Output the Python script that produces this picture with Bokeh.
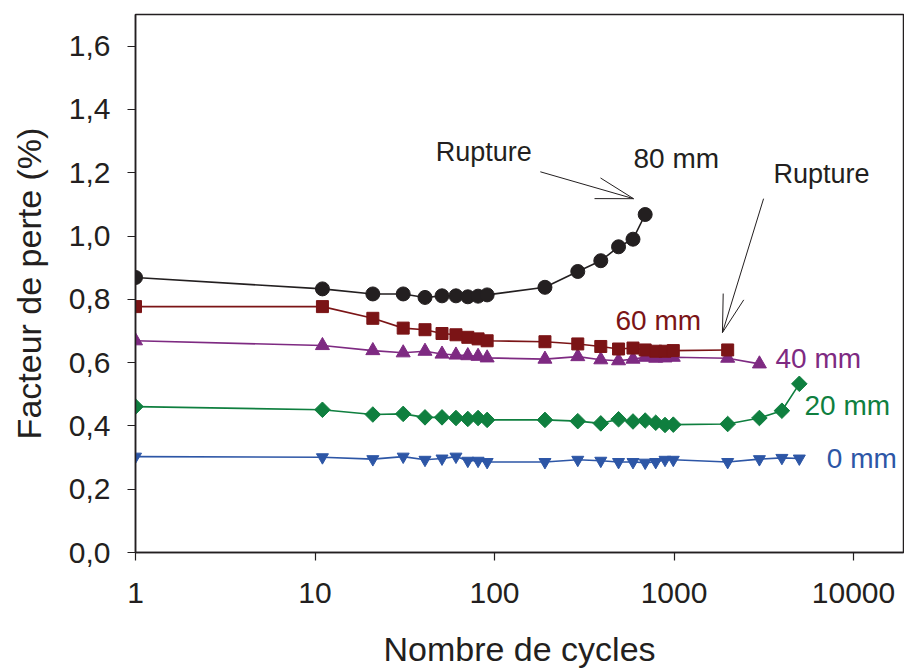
import math
from bokeh.plotting import figure
from bokeh.models import FixedTicker, Label
from bokeh.embed import file_html
from bokeh.resources import INLINE

# ---- data ----
cycles = [1, 11, 21, 31, 41, 51, 61, 71, 81, 91, 191, 291, 391, 491, 591, 691,
          791, 891, 991, 1991, 2991, 3991, 4991]
mm80 = [0.869, 0.833, 0.817, 0.817, 0.806, 0.811, 0.811, 0.808, 0.810, 0.814,
        0.838, 0.888, 0.922, 0.966, 0.990, 1.068]
mm60 = [0.777, 0.777, 0.740, 0.709, 0.704, 0.692, 0.688, 0.680, 0.675, 0.669,
        0.666, 0.659, 0.651, 0.643, 0.646, 0.640, 0.636, 0.636, 0.638, 0.640]
mm40 = [0.669, 0.654, 0.638, 0.631, 0.636, 0.627, 0.624, 0.622, 0.620, 0.615,
        0.611, 0.619, 0.609, 0.606, 0.611, 0.617, 0.614, 0.615, 0.617, 0.614, 0.596]
mm20 = [0.461, 0.451, 0.436, 0.438, 0.427, 0.427, 0.425, 0.422, 0.425, 0.419,
        0.419, 0.415, 0.408, 0.421, 0.414, 0.417, 0.410, 0.403, 0.404, 0.406,
        0.425, 0.448, 0.533]
mm0 = [0.303, 0.301, 0.295, 0.303, 0.293, 0.297, 0.303, 0.290, 0.290, 0.286,
       0.286, 0.293, 0.290, 0.286, 0.286, 0.284, 0.286, 0.293, 0.293, 0.286,
       0.295, 0.299, 0.297]

x_ticks = [1, 10, 100, 1000, 10000]
x_tick_labels = ["1", "10", "100", "1000", "10000"]
y_ticks = [0.0, 0.2, 0.4, 0.6, 0.8, 1.0, 1.2, 1.4, 1.6]
y_tick_labels = ["0,0", "0,2", "0,4", "0,6", "0,8", "1,0", "1,2", "1,4", "1,6"]

series_labels = ["80 mm", "60 mm", "40 mm", "20 mm", "0 mm"]

# ---- layout ----
W, H = 904, 671
BL, BR, BT, BB = 135, 1, 14, 119
frame_w = W - BL - BR
frame_h = H - BT - BB
px_per_decade = 179.5
x_start = 1
x_end = 10 ** (frame_w / px_per_decade)
y_start, y_end = 0.0, 1.7

INK = "#231f20"
FONT = "Liberation Sans"

p = figure(width=W, height=H, x_axis_type="log",
           x_range=(x_start, x_end), y_range=(y_start, y_end),
           output_backend="svg", toolbar_location=None,
           min_border_left=BL, min_border_right=BR,
           min_border_top=BT, min_border_bottom=BB)
p.xgrid.visible = False
p.ygrid.visible = False
p.outline_line_color = INK
p.outline_line_width = 1.5
p.background_fill_color = "white"
p.border_fill_color = "white"

for ax in (p.xaxis[0], p.yaxis[0]):
    ax.axis_line_color = INK
    ax.axis_line_width = 1.5
    ax.major_tick_line_color = INK
    ax.major_tick_line_width = 1.2
    ax.major_tick_in = 0
    ax.major_tick_out = 8
    ax.minor_tick_line_color = None
    ax.major_label_text_font = FONT
    ax.major_label_text_font_size = "30px"
    ax.major_label_text_color = INK
    ax.axis_label_text_font = FONT
    ax.axis_label_text_font_size = "34px"
    ax.axis_label_text_font_style = "normal"
    ax.axis_label_text_color = INK

p.xaxis.ticker = FixedTicker(ticks=x_ticks)
p.xaxis.major_label_overrides = dict(zip(x_ticks, x_tick_labels))
p.yaxis.ticker = FixedTicker(ticks=y_ticks)
p.yaxis.major_label_overrides = dict(zip(y_ticks, y_tick_labels))
p.xaxis.axis_label = "Nombre de cycles"
p.yaxis.axis_label = "Facteur de perte (%)"
p.xaxis.major_label_standoff = 22
p.yaxis.major_label_standoff = 17
p.xaxis.axis_label_standoff = 24
p.yaxis.axis_label_standoff = 18

# ---- series ----
c80, c60, c40, c20, c0 = INK, "#7b1416", "#7e2a82", "#0f7f3f", "#2d56a6"

def draw(ys, color, marker, size, angle=0.0):
    xs = cycles[:len(ys)]
    p.line(xs, ys, line_color=color, line_width=1.6)
    p.scatter(xs, ys, marker=marker, size=size, fill_color=color,
              line_color=color, angle=angle)

draw(mm0, c0, "inverted_triangle", 12)
draw(mm20, c20, "square", 11, angle=math.pi / 4)
draw(mm40, c40, "triangle", 14)
draw(mm60, c60, "square", 12)
draw(mm80, c80, "circle", 14)

# ---- labels ----
def lab(x, y, text, color, size="28px"):
    p.add_layout(Label(x=x, y=y, text=text, text_color=color,
                       text_font=FONT, text_font_size=size,
                       text_align="left", text_baseline="middle"))

lab(595, 1.244, series_labels[0], INK)
lab(472, 0.733, series_labels[1], c60)
lab(3675, 0.613, series_labels[2], c40)
lab(5333, 0.464, series_labels[3], c20)
lab(7100, 0.297, series_labels[4], c0)
lab(47, 1.266, "Rupture", INK, "27px")
lab(3582, 1.197, "Rupture", INK, "27px")

# ---- arrows (open heads drawn as segments) ----
ppy = frame_h / (y_end - y_start)

def to_px(x, y):
    return math.log10(x / x_start) * px_per_decade, y * ppy

def to_data(px, py):
    return x_start * 10 ** (px / px_per_decade), py / ppy

def arrow(tail, tip, head_len=39, half_angle=16):
    p.segment(x0=[tail[0]], y0=[tail[1]], x1=[tip[0]], y1=[tip[1]],
              line_color=INK, line_width=1)
    tx, ty = to_px(*tail)
    hx, hy = to_px(*tip)
    ang = math.atan2(ty - hy, tx - hx)
    x0s, y0s, x1s, y1s = [], [], [], []
    for s in (-1, 1):
        a = ang + s * math.radians(half_angle)
        ex, ey = to_data(hx + head_len * math.cos(a), hy + head_len * math.sin(a))
        x0s.append(tip[0]); y0s.append(tip[1]); x1s.append(ex); y1s.append(ey)
    p.segment(x0=x0s, y0=y0s, x1=x1s, y1=y1s, line_color=INK, line_width=1)

arrow((180, 1.203), (595, 1.118))
arrow((3155, 1.118), (1862, 0.695))

open("out.html", "w").write(file_html(p, INLINE))
